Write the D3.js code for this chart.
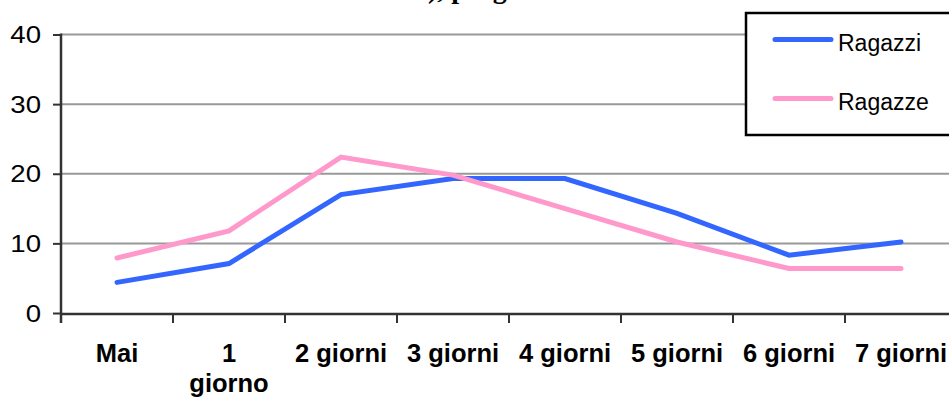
<!DOCTYPE html>
<html>
<head>
<meta charset="utf-8">
<script src="https://cdn.jsdelivr.net/npm/d3@7"></script>
<style>
  html, body { margin: 0; padding: 0; background: #fff; overflow: hidden; }
  svg { display: block; }
</style>
</head>
<body>
<svg id="chart" width="949" height="398"></svg>
<script>
// Categories (days per week) and share of students per category
const categories = ["Mai", "1 giorno", "2 giorni", "3 giorni", "4 giorni", "5 giorni", "6 giorni", "7 giorni"];
const ragazzi = [4.4, 7.1, 17.0, 19.3, 19.3, 14.3, 8.3, 10.2];
const ragazze = [7.9, 11.8, 22.4, 19.8, 15.0, 10.2, 6.4, 6.4];
const yTicks = [0, 10, 20, 30, 40];
const seriesNames = ["Ragazzi", "Ragazze"];
const seriesColors = ["#3366FF", "#FF99CC"];
const titleText = "Giorni di attività), progressione";

const svg = d3.select("#chart");

const plotLeft = 61, plotRight = 957, plotTop = 34.5, plotBottom = 313;

const xBand = d3.scaleBand().domain(categories).range([plotLeft, plotRight]).padding(0);
const x = d3.scalePoint().domain(categories).range([plotLeft, plotRight]).padding(0.5);
const y = d3.scaleLinear().domain([0, 40]).range([plotBottom, plotTop]);

// Title (runs off the top edge)
const title = svg.append("text")
  .attr("y", -2.5)
  .attr("font-family", "'Liberation Serif', 'Times New Roman', serif")
  .attr("font-weight", "bold")
  .attr("font-size", 28)
  .attr("fill", "#000")
  .text(titleText);
const parenIdx = titleText.indexOf(")");
const parenX = title.node().getStartPositionOfChar(parenIdx).x;
title.attr("x", 428 - parenX);

// Horizontal gridlines
svg.append("g")
  .selectAll("line")
  .data(yTicks.filter(d => d > 0))
  .join("line")
  .attr("x1", plotLeft).attr("x2", 949)
  .attr("y1", d => y(d)).attr("y2", d => y(d))
  .attr("stroke", "#999")
  .attr("stroke-width", 2);

// Y axis
const yAxis = d3.axisLeft(y).tickValues(yTicks).tickSize(8).tickPadding(12).tickFormat(d3.format("d"));
const gy = svg.append("g").attr("transform", `translate(${plotLeft},0)`).call(yAxis);
gy.select(".domain").attr("stroke", "#333").attr("stroke-width", 2.5)
  .attr("d", `M0,${y(40) - 1}V${plotBottom + 10}`);
gy.selectAll(".tick line").attr("stroke", "#333").attr("stroke-width", 2);
gy.selectAll(".tick text")
  .attr("font-family", "'Liberation Sans', Arial, sans-serif")
  .attr("font-size", 23)
  .attr("fill", "#000")
  .attr("dy", null)
  .attr("x", null)
  .attr("transform", "translate(-20,8.2) scale(1.2,1)");

// X axis with ticks at category boundaries
const boundaries = categories.map(c => xBand(c)).concat([plotRight]);
svg.append("line")
  .attr("x1", plotLeft).attr("x2", 949)
  .attr("y1", plotBottom + 1).attr("y2", plotBottom + 1)
  .attr("stroke", "#333").attr("stroke-width", 2.5);
svg.append("g")
  .selectAll("line")
  .data(boundaries.slice(1))
  .join("line")
  .attr("x1", d => d).attr("x2", d => d)
  .attr("y1", plotBottom + 1).attr("y2", plotBottom + 10)
  .attr("stroke", "#333").attr("stroke-width", 2);

// X labels (bold, wrapped where needed)
const xLabels = svg.append("g")
  .attr("font-family", "'Liberation Sans', Arial, sans-serif")
  .attr("font-weight", "bold")
  .attr("font-size", 25.5)
  .attr("fill", "#000")
  .attr("text-anchor", "middle");
categories.forEach(c => {
  const lines = c === "1 giorno" ? ["1", "giorno"] : [c];
  const t = xLabels.append("text").attr("x", x(c)).attr("y", 361.5);
  lines.forEach((ln, i) => {
    t.append("tspan").attr("x", x(c)).attr("dy", i === 0 ? 0 : 30).text(ln);
  });
});

// Series lines
const line = d3.line().x((d, i) => x(categories[i])).y(d => y(d));
[ragazzi, ragazze].forEach((vals, i) => {
  svg.append("path")
    .datum(vals)
    .attr("d", line)
    .attr("fill", "none")
    .attr("stroke", seriesColors[i])
    .attr("stroke-width", 5)
    .attr("stroke-linejoin", "miter")
    .attr("stroke-linecap", "round");
});

// Legend
const legend = svg.append("g");
legend.append("rect")
  .attr("x", 746).attr("y", 13)
  .attr("width", 220).attr("height", 122)
  .attr("fill", "#fff")
  .attr("stroke", "#000")
  .attr("stroke-width", 2.5);
const legendY = [39.5, 98.5];
seriesNames.forEach((name, i) => {
  legend.append("line")
    .attr("x1", 775).attr("x2", 831)
    .attr("y1", legendY[i]).attr("y2", legendY[i])
    .attr("stroke", seriesColors[i])
    .attr("stroke-width", 5)
    .attr("stroke-linecap", "round");
  legend.append("text")
    .attr("x", 838).attr("y", legendY[i] + 11)
    .attr("font-family", "'Liberation Sans', Arial, sans-serif")
    .attr("font-size", 23)
    .attr("fill", "#000")
    .text(name);
});
</script>
</body>
</html>
